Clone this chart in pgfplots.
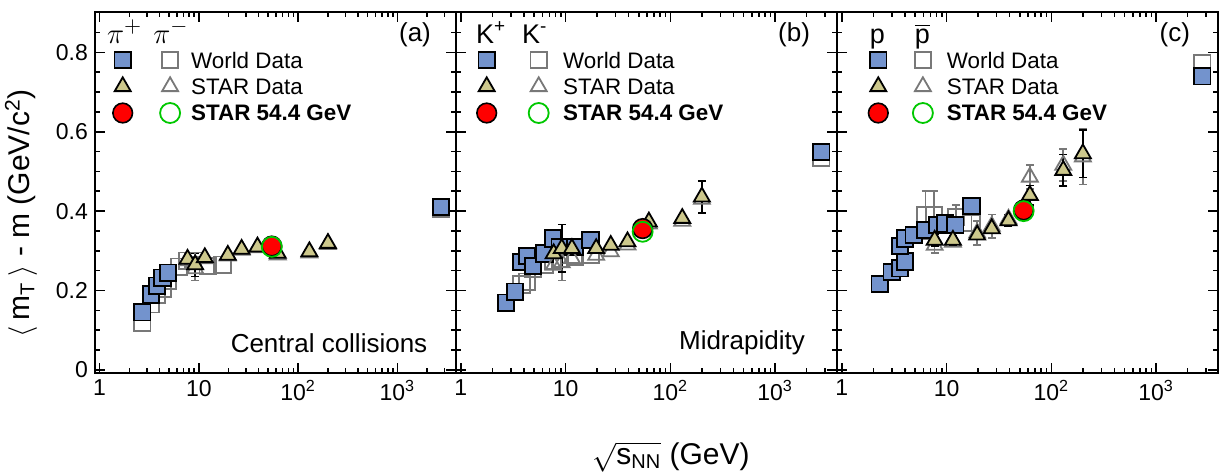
\documentclass[border=0pt]{standalone}
\usepackage{pgfplots}
\pgfplotsset{compat=1.18}
\usepackage{fontspec}
\setmainfont{Liberation Sans}
\definecolor{bluef}{RGB}{115,147,205}
\definecolor{khaki}{RGB}{205,200,140}
\definecolor{greyo}{RGB}{120,120,120}
\definecolor{greenc}{RGB}{0,200,0}
\pgfplotsset{
  wplus/.style={only marks, mark=square*, mark size=4.1pt, mark options={fill=bluef, draw=black, line width=0.9pt}},
  wminus/.style={only marks, mark=square, mark size=4.1pt, mark options={draw=greyo, line width=0.9pt}},
  splus/.style={only marks, mark=triangle*, mark size=4.6pt, mark options={fill=khaki, draw=black, line width=0.9pt}},
  sminus/.style={only marks, mark=triangle, mark size=4.6pt, mark options={draw=greyo, line width=0.9pt}},
  sred/.style={only marks, mark=*, mark size=4.9pt, mark options={fill=red, draw=black, line width=0.8pt}},
  sgreen/.style={only marks, mark=o, mark size=5pt, mark options={draw=greenc, line width=0.9pt}},
}
\newcommand{\legendrows}{%
\addlegendimage{wplus, legend image code/.code={\path[draw=none,fill=none] (-5.5pt,-5pt) rectangle (5.5pt,5pt); \draw plot coordinates {(0pt,0pt)};}}\addlegendentry{}
\addlegendimage{wminus, legend image code/.code={\path[draw=none,fill=none] (-5.5pt,-5pt) rectangle (5.5pt,5pt); \draw plot coordinates {(0pt,0pt)};}}\addlegendentry{World Data}
\addlegendimage{splus, legend image code/.code={\path[draw=none,fill=none] (-5.5pt,-5pt) rectangle (5.5pt,5pt); \draw plot coordinates {(0pt,0pt)};}}\addlegendentry{}
\addlegendimage{sminus, legend image code/.code={\path[draw=none,fill=none] (-5.5pt,-5pt) rectangle (5.5pt,5pt); \draw plot coordinates {(0pt,0pt)};}}\addlegendentry{STAR Data}
\addlegendimage{sred, legend image code/.code={\path[draw=none,fill=none] (-5.5pt,-5pt) rectangle (5.5pt,5pt); \draw plot coordinates {(0pt,0pt)};}}\addlegendentry{}
\addlegendimage{sgreen, legend image code/.code={\path[draw=none,fill=none] (-5.5pt,-5pt) rectangle (5.5pt,5pt); \draw plot coordinates {(0pt,0pt)};}}\addlegendentry{\textbf{STAR 54.4 GeV}}
}
\begin{document}
\begin{tikzpicture}
\useasboundingbox (0pt,0pt) rectangle (614pt,237pt);
% ---------------- panel (a) ----------------
\begin{axis}[at={(47.5pt,50.5pt)}, anchor=south west, scale only axis, width=180.5pt, height=180.5pt,
    xmode=log, xmin=0.9, xmax=3900, ymin=-0.008, ymax=0.902,
    axis line style={line width=1pt},
    tick style={line width=0.8pt, black},
    major tick length=5pt, minor tick length=2.5pt,
    xtick={1,10,100,1000},
    xticklabels={1,10,10\textsuperscript{2},10\textsuperscript{3}},
    minor xtick={2,3,4,5,6,7,8,9,20,30,40,50,60,70,80,90,200,300,400,500,600,700,800,900,2000,3000},
    ytick={0,0.2,0.4,0.6,0.8},
    minor ytick={0.05,0.1,0.15,0.25,0.3,0.35,0.45,0.5,0.55,0.65,0.7,0.75,0.85},
    yticklabels={0,0.2,0.4,0.6,0.8},
    tick label style={font=\fontsize{11.5}{13}\selectfont},
    legend cell align=left, legend columns=2,
    legend style={draw=none, fill=none, inner sep=0pt, outer sep=0pt, anchor=north west,
      row sep=3.25pt, nodes={inner sep=0pt, text depth=0pt},
      font=\fontsize{11.2}{13}\selectfont,
      at={(axis description cs:0.0463,0.8947)},
      /tikz/column 2/.style={column sep=11.7pt}, /tikz/column 3/.style={column sep=5pt}}]
\legendrows
\addplot[wminus, forget plot] table {
x y
2.7 0.118
3.3 0.165
3.8 0.19
4.3 0.205
4.9 0.225
6.3 0.26
7.6 0.275
8.8 0.275
12.3 0.262
17.3 0.265
2760 0.405
};
\addplot[wplus, forget plot] table {
x y
2.7 0.145
3.3 0.19
3.8 0.212
4.3 0.232
4.9 0.245
2760 0.41
};
\addplot[forget plot, draw=none, mark=none, error bars/.cd, y dir=both, y explicit,
  error bar style={line width=0.8pt, greyo}, error mark options={rotate=90, line width=0.8pt, mark size=2pt, greyo}]
  table[y error=e] {
x y e
9.2 0.255 0.03
};
\addplot[sminus, forget plot] table {
x y
7.7 0.275
9.2 0.255
11.5 0.28
19.6 0.287
27 0.302
39 0.308
62.4 0.29
130 0.295
200 0.316
};
\addplot[forget plot, draw=none, mark=none, error bars/.cd, y dir=both, y explicit,
  error bar style={line width=0.8pt, black}, error mark options={rotate=90, line width=0.8pt, mark size=2pt, black}]
  table[y error=e] {
x y e
9.2 0.265 0.03
};
\addplot[splus, forget plot] table {
x y
7.7 0.279
9.2 0.265
11.5 0.283
19.6 0.289
27 0.304
39 0.31
62.4 0.294
130 0.298
200 0.319
};
\addplot[sred, forget plot] coordinates {(54.4,0.312)};
\addplot[sgreen, forget plot] coordinates {(54.4,0.31)};
\node[anchor=east, font=\fontsize{13}{15}\selectfont] at (axis description cs:0.95,0.936) {(a)};
\node[anchor=east, font=\fontsize{13}{15}\selectfont] at (axis description cs:0.94,0.083) {Central collisions};
\node[anchor=base, font=\fontsize{15.5}{18}\selectfont] at (axis description cs:0.082,0.914) {$\pi^{+}$};
\node[anchor=base, font=\fontsize{15.5}{18}\selectfont] at (axis description cs:0.210,0.914) {$\pi^{-}$};
\end{axis}
% ---------------- panel (b) ----------------
\begin{axis}[at={(228pt,50.5pt)}, anchor=south west, scale only axis, width=190.5pt, height=180.5pt,
    xmode=log, xmin=0.9, xmax=3900, ymin=-0.008, ymax=0.902,
    axis line style={line width=1pt},
    tick style={line width=0.8pt, black},
    major tick length=5pt, minor tick length=2.5pt,
    xtick={1,10,100,1000},
    xticklabels={1,10,10\textsuperscript{2},10\textsuperscript{3}},
    minor xtick={2,3,4,5,6,7,8,9,20,30,40,50,60,70,80,90,200,300,400,500,600,700,800,900,2000,3000},
    ytick={0,0.2,0.4,0.6,0.8},
    minor ytick={0.05,0.1,0.15,0.25,0.3,0.35,0.45,0.5,0.55,0.65,0.7,0.75,0.85},
    yticklabels={},
    tick label style={font=\fontsize{11.5}{13}\selectfont},
    legend cell align=left, legend columns=2,
    legend style={draw=none, fill=none, inner sep=0pt, outer sep=0pt, anchor=north west,
      row sep=3.25pt, nodes={inner sep=0pt, text depth=0pt},
      font=\fontsize{11.2}{13}\selectfont,
      at={(axis description cs:0.0517,0.8947)},
      /tikz/column 2/.style={column sep=14pt}, /tikz/column 3/.style={column sep=6.7pt}}]
\legendrows
\addplot[wminus, forget plot] table {
x y
3.8 0.215
4.3 0.222
4.9 0.255
6.3 0.265
7.6 0.275
8.8 0.28
12.3 0.285
17.3 0.29
2760 0.535
};
\addplot[wplus, forget plot] table {
x y
2.7 0.169
3.3 0.197
3.8 0.272
4.3 0.287
4.9 0.262
6.3 0.293
7.6 0.331
8.8 0.31
12.3 0.31
17.3 0.327
2760 0.549
};
\addplot[forget plot, draw=none, mark=none, error bars/.cd, y dir=both, y explicit,
  error bar style={line width=0.8pt, greyo}, error mark options={rotate=90, line width=0.8pt, mark size=2pt, greyo}]
  table[y error=e] {
x y e
9.2 0.27 0.045
};
\addplot[sminus, forget plot] table {
x y
7.7 0.264
9.2 0.27
11.5 0.281
19.6 0.289
27 0.298
39 0.315
62.4 0.368
130 0.375
200 0.43
};
\addplot[forget plot, draw=none, mark=none, error bars/.cd, y dir=both, y explicit,
  error bar style={line width=0.8pt, black}, error mark options={rotate=90, line width=0.8pt, mark size=2pt, black}]
  table[y error=e] {
x y e
9.2 0.306 0.06
200 0.436 0.04
};
\addplot[splus, forget plot] table {
x y
7.7 0.293
9.2 0.306
11.5 0.306
19.6 0.306
27 0.314
39 0.323
62.4 0.373
130 0.382
200 0.436
};
\addplot[sred, forget plot] coordinates {(54.4,0.356)};
\addplot[sgreen, forget plot] coordinates {(54.4,0.348)};
\node[anchor=east, font=\fontsize{13}{15}\selectfont] at (axis description cs:0.9475,0.936) {(b)};
\node[anchor=east, font=\fontsize{13}{15}\selectfont] at (axis description cs:0.934,0.083) {Midrapidity};
\node[anchor=base, font=\fontsize{13.5}{15}\selectfont] at (axis description cs:0.092,0.914) {K\textsuperscript{+}};
\node[anchor=base, font=\fontsize{13.5}{15}\selectfont] at (axis description cs:0.207,0.914) {K\textsuperscript{-}};
\end{axis}
% ---------------- panel (c) ----------------
\begin{axis}[at={(418.5pt,50.5pt)}, anchor=south west, scale only axis, width=190.5pt, height=180.5pt,
    xmode=log, xmin=0.9, xmax=3900, ymin=-0.008, ymax=0.902,
    axis line style={line width=1pt},
    tick style={line width=0.8pt, black},
    major tick length=5pt, minor tick length=2.5pt,
    xtick={1,10,100,1000},
    xticklabels={1,10,10\textsuperscript{2},10\textsuperscript{3}},
    minor xtick={2,3,4,5,6,7,8,9,20,30,40,50,60,70,80,90,200,300,400,500,600,700,800,900,2000,3000},
    ytick={0,0.2,0.4,0.6,0.8},
    minor ytick={0.05,0.1,0.15,0.25,0.3,0.35,0.45,0.5,0.55,0.65,0.7,0.75,0.85},
    yticklabels={},
    tick label style={font=\fontsize{11.5}{13}\selectfont},
    legend cell align=left, legend columns=2,
    legend style={draw=none, fill=none, inner sep=0pt, outer sep=0pt, anchor=north west,
      row sep=3.25pt, nodes={inner sep=0pt, text depth=0pt},
      font=\fontsize{11.2}{13}\selectfont,
      at={(axis description cs:0.0795,0.8947)},
      /tikz/column 2/.style={column sep=10.3pt}, /tikz/column 3/.style={column sep=6.5pt}}]
\legendrows
\addplot[forget plot, draw=none, mark=none, error bars/.cd, y dir=both, y explicit,
  error bar style={line width=0.8pt, greyo}, error mark options={rotate=90, line width=0.8pt, mark size=2pt, greyo}]
  table[y error=e] {
x y e
6.3 0.39 0.06
7.6 0.39 0.06
12.3 0.385 0.03
17.3 0.37 0.02
};
\addplot[wminus, forget plot] table {
x y
6.3 0.39
7.6 0.39
12.3 0.385
17.3 0.37
2760 0.772
};
\addplot[wplus, forget plot] table {
x y
2.3 0.216
3.0 0.247
3.6 0.256
4.0 0.273
3.6 0.312
4.0 0.331
4.85 0.34
6.25 0.352
8.1 0.365
9.7 0.369
12.1 0.365
17.3 0.413
2760 0.74
};
\addplot[forget plot, draw=none, mark=none, error bars/.cd, y dir=both, y explicit,
  error bar style={line width=0.8pt, greyo}, error mark options={rotate=90, line width=0.8pt, mark size=2pt, greyo}]
  table[y error=e] {
x y e
7.7 0.314 0.02
19.6 0.345 0.03
27 0.362 0.03
62.4 0.486 0.03
130 0.516 0.04
200 0.537 0.07
};
\addplot[sminus, forget plot] table {
x y
7.7 0.314
11.5 0.322
19.6 0.345
27 0.362
39 0.38
62.4 0.486
130 0.516
200 0.537
};
\addplot[forget plot, draw=none, mark=none, error bars/.cd, y dir=both, y explicit,
  error bar style={line width=0.8pt, black}, error mark options={rotate=90, line width=0.8pt, mark size=2pt, black}]
  table[y error=e] {
x y e
7.7 0.327 0.015
11.5 0.327 0.012
39 0.376 0.015
62.4 0.44 0.025
130 0.503 0.04
200 0.545 0.06
};
\addplot[splus, forget plot] table {
x y
7.7 0.327
11.5 0.327
19.6 0.34
27 0.356
39 0.376
62.4 0.44
130 0.503
200 0.545
};
\addplot[sred, forget plot] coordinates {(54.4,0.403)};
\addplot[sgreen, forget plot] coordinates {(54.4,0.40)};
\node[anchor=east, font=\fontsize{13}{15}\selectfont] at (axis description cs:0.945,0.936) {(c)};
\node[anchor=base, font=\fontsize{13.5}{15}\selectfont] at (axis description cs:0.106,0.914) {p};
\node[anchor=base, font=\fontsize{13.5}{15}\selectfont] at (axis description cs:0.224,0.914) {$\overline{\mbox{p}}$};
\end{axis}
% ---------------- axis titles ----------------
\node[rotate=90, font=\fontsize{15}{18}\selectfont] at (10.5pt,130.25pt)
  {$\big\langle$\hspace{3pt}m$_{\mbox{\fontsize{10}{12}\selectfont T}}$\hspace{3pt}$\big\rangle$ - m (GeV/c\textsuperscript{2})};
\node[font=\fontsize{15}{18}\selectfont] at (335.5pt,8.5pt)
  {$\sqrt{\mbox{s}_{\mbox{\fontsize{10}{12}\selectfont NN}}}$ (GeV)};
\end{tikzpicture}
\end{document}
